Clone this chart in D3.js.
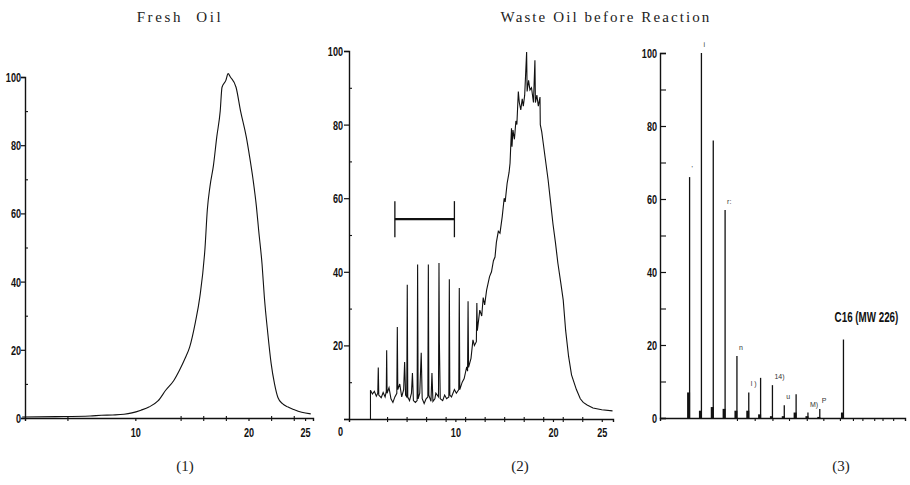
<!DOCTYPE html>
<html><head><meta charset="utf-8">
<script src="https://cdn.jsdelivr.net/npm/d3@7"></script>
<style>
body{margin:0;background:#fff;}
svg{display:block;}
.title{font-family:"Liberation Serif","DejaVu Serif",serif;font-size:15px;fill:#222;}
.cap{font-family:"Liberation Serif","DejaVu Serif",serif;font-size:15px;fill:#222;}
.tick text{font-family:"Liberation Sans","Arial",sans-serif;font-size:13px;font-weight:bold;fill:#111;}
.plab{font-family:"Liberation Sans","Arial",sans-serif;font-size:7px;fill:#333;}
.c16{font-family:"Liberation Sans","Arial",sans-serif;font-size:14px;font-weight:bold;fill:#111;}
</style></head><body>
<svg id="chart" width="910" height="485"></svg>
<script>
// ---------- DATA ----------
const titles = ["Fresh Oil", "Waste Oil before Reaction"];
const captions = ["(1)", "(2)", "(3)"];
const yMajorTicks = [0, 20, 40, 60, 80, 100];
const yMinorTicks = [10, 30, 50, 70, 90];
const xTickLabels = [10, 20, 25];

// Panel 1 : Fresh Oil
const freshTime  = [0, 3, 6, 7, 8, 9, 9.7, 10.5, 11.2, 12, 12.7, 13.4, 13.9, 14.4, 14.8, 15.3, 15.7, 16.16, 16.36, 16.6, 16.9, 17.2, 17.5, 17.66, 18.0, 18.2, 18.4, 18.9, 19.3, 19.8, 20.1, 20.4, 20.7, 20.9, 21.2, 21.4, 21.7, 22.0, 22.3, 22.6, 23.0, 23.5, 24.0, 24.7, 25.5];
const freshAbund = [0.3, 0.4, 0.6, 0.8, 0.9, 1.1, 1.5, 2.3, 3.2, 5.0, 8.2, 11, 14, 17.5, 20.8, 28, 35.5, 50, 61, 68, 74, 82.5, 90, 97, 99, 101, 100, 97, 90, 82.5, 76.6, 70, 62, 55, 45, 35.5, 25, 16, 10, 6, 4.2, 3.2, 2.5, 1.7, 1.2];
const freshMinorX = [4, 14, 16, 18, 22, 24];

// Panel 2 : Waste Oil before Reaction
const wasteTime = [1.3, 1.3, 1.5, 1.7, 1.9, 2.05, 2.1, 2.15, 2.4, 2.6, 2.8, 2.92, 2.96, 3.0, 3.2, 3.4, 3.6, 3.8, 4.0, 4.05, 4.1, 4.3, 4.5, 4.7, 4.8, 4.9, 5.02, 5.07, 5.12, 5.3, 5.5, 5.6, 5.7, 5.9, 6.08, 6.13, 6.18, 6.35, 6.5, 6.6, 6.8, 7.0, 7.18, 7.23, 7.28, 7.5, 7.6, 7.7, 7.9, 8.0, 8.27, 8.32, 8.36, 8.45, 8.7, 8.9, 9.1, 9.33, 9.38, 9.43, 9.6, 9.9, 10.1, 10.35, 10.4, 10.45, 10.7, 10.9, 11.16, 11.25, 11.3, 11.35, 11.6, 11.8, 11.95, 12.15, 12.2, 12.25, 12.5, 12.7, 12.85, 13.0, 13.2, 13.5, 13.7, 13.9, 14.06, 14.2, 14.4, 14.57, 14.8, 15.0, 15.1, 15.3, 15.5, 15.6, 15.75, 15.8, 15.9, 16.05, 16.2, 16.3, 16.45, 16.55, 16.7, 16.85, 16.96, 17.1, 17.3, 17.35, 17.5, 17.64, 17.8, 18.0, 18.15, 18.2, 18.35, 18.5, 18.67, 18.7, 18.85, 19.0, 19.2, 19.5, 19.75, 20.0, 20.25, 20.5, 20.8, 21.05, 21.3, 21.6, 21.9, 22.4, 22.8, 23.1, 23.5, 24.1, 25.0, 26.1];
const wasteAbund = [0, 7.8, 6.8, 7.5, 6.2, 7, 14, 6.5, 5.8, 7.2, 6, 7.5, 18.7, 7, 8.5, 5.5, 4.5, 6, 7, 25, 8, 9.5, 6, 8, 15.5, 6.5, 6, 36.5, 6, 5, 7, 12.5, 5, 4.5, 5, 42, 5.5, 7, 18, 5.5, 4.2, 5.5, 6, 42, 6.5, 4.8, 12.5, 4.8, 5.5, 7, 6, 42.4, 21, 5.5, 5, 6.5, 5.5, 6, 38, 6.5, 6, 8, 7, 8, 35.6, 8, 10, 11, 14.2, 13, 32, 14, 16.5, 21.5, 20, 21, 31.5, 24, 29.6, 28, 33, 31, 35, 38.7, 40, 43, 44, 48, 51, 50.5, 55, 60, 59, 64, 67, 69.5, 79, 74, 78.5, 76, 81, 80, 89, 86, 84, 87, 85, 88, 99.7, 89, 92, 89.4, 90, 86, 97.5, 86, 88, 85, 87.5, 80, 78, 75, 71, 65, 59, 53, 48, 42.4, 37, 32.3, 24, 17, 12, 8, 5.5, 4.5, 3.8, 3.0, 2.5, 2.2];
const wasteMinorX = [3, 5, 7, 9, 11, 13, 15, 17, 19, 21, 23];
const wasteBarRange = [3.8, 9.9];
const wasteBarLevel = 54.3;
const wasteBarCap = [49.4, 59.2];

// Panel 3 : product
const productCarbon = [3, 4, 5, 6, 7, 8, 9, 10, 11, 12, 13, 14, 16];
const productAbund  = [66, 100, 76, 57, 17, 7, 11, 9, 3.5, 6.5, 1.5, 2.5, 21.5];
const productBase   = [7, 2, 3, 2.5, 2, 2, 1, 0.5, 0.5, 1.5, 0.5, 0.3, 1.5];
const productLabels = ["'", "i", "", "r:", "n", "l )", "", "14)", "u", "", "M)", "P", ""];
const productMinorX = [7, 8.5, 10, 11.4, 12.9, 14.3, 15.7, 16.8, 17.6, 18.6, 19.3, 20.2];
const c16Label = "C16 (MW 226)";

// ---------- DRAW ----------
const svg = d3.select("#chart");
const ink = "#111";
const narrow = 0.7;

function squeeze(sel) {
  sel.each(function () {
    const t = d3.select(this);
    const bx = +t.attr("x") || 0;
    t.attr("x", bx / narrow).attr("transform", `scale(${narrow},1)`);
  });
}
function yAxisGroup(g, y, x0, opts) {
  const ax = g.append("g").attr("transform", `translate(${x0},0)`);
  ax.call(d3.axisLeft(y).tickValues(yMajorTicks).tickSize(opts.majorSize).tickPadding(opts.pad).tickFormat(d3.format("d")));
  ax.select(".domain").attr("stroke", ink).attr("stroke-width", 1.4);
  ax.selectAll(".tick line").attr("stroke", ink).attr("stroke-width", 1.2);
  ax.selectAll(".tick text").attr("dy", "0.35em").call(squeeze);
  const mn = g.append("g").attr("transform", `translate(${x0},0)`);
  mn.call(d3.axisRight(y).tickValues(yMinorTicks).tickSize(opts.minorSize).tickFormat(""));
  mn.select(".domain").remove();
  mn.selectAll(".tick line").attr("stroke", ink).attr("stroke-width", 1.1);
  return ax;
}
function xAxisGroup(g, x, y0, labels, minor, pad) {
  const ax = g.append("g").attr("transform", `translate(0,${y0})`);
  ax.call(d3.axisBottom(x).tickValues(labels).tickSize(3).tickPadding(pad).tickFormat(d3.format("d")));
  ax.select(".domain").attr("stroke", ink).attr("stroke-width", 1.4);
  ax.selectAll(".tick line").attr("stroke", ink).attr("stroke-width", 1.2);
  ax.selectAll(".tick text").call(squeeze);
  const mn = g.append("g").attr("transform", `translate(0,${y0})`);
  mn.call(d3.axisBottom(x).tickValues(minor).tickSize(3).tickFormat(""));
  mn.select(".domain").remove();
  mn.selectAll(".tick line").attr("stroke", ink).attr("stroke-width", 1.1).attr("y1", -2);
  return ax;
}

// Panel 1
{
  const g = svg.append("g");
  const x = d3.scaleLinear().domain([0.25, 25.7]).range([25, 313]);
  const y = d3.scaleLinear().domain([0, 100]).range([418, 77]);
  xAxisGroup(g, x, y(0), xTickLabels, freshMinorX, 7);
  yAxisGroup(g, y, 25, {majorSize: 4, pad: 0, minorSize: 3});
  g.append("path").datum(d3.zip(freshTime, freshAbund))
    .attr("d", d3.line().curve(d3.curveMonotoneX).x(d => x(d[0])).y(d => y(d[1])))
    .attr("fill", "none").attr("stroke", ink).attr("stroke-width", 1.1);
  svg.append("text").attr("class", "title").attr("x", 180).attr("y", 22).attr("text-anchor", "middle")
    .attr("letter-spacing", "2.6px").attr("word-spacing", "7px").text(titles[0]);
  svg.append("text").attr("class", "cap").attr("x", 185).attr("y", 471).attr("text-anchor", "middle").text(captions[0]);
}

// Panel 2
{
  const g = svg.append("g");
  const x = d3.scaleLinear().domain([-0.9, 26.15]).range([349, 613]);
  const y = d3.scaleLinear().domain([0, 100]).range([419, 51]);
  xAxisGroup(g, x, y(0), xTickLabels, wasteMinorX, 6);
  const ya = yAxisGroup(g, y, 349, {majorSize: 5, pad: 1, minorSize: 3});
  // the zero label of this panel sits below the baseline, left of the axis
  ya.selectAll(".tick").filter(d => d === 0).select("text").attr("dy", "1.25em");
  g.append("path").datum(d3.zip(wasteTime, wasteAbund))
    .attr("d", d3.line().x(d => x(d[0])).y(d => y(d[1])))
    .attr("fill", "none").attr("stroke", ink).attr("stroke-width", 1.1).attr("stroke-linejoin", "miter");
  g.append("line").attr("x1", x(wasteBarRange[0])).attr("x2", x(wasteBarRange[1]))
    .attr("y1", y(wasteBarLevel)).attr("y2", y(wasteBarLevel)).attr("stroke", ink).attr("stroke-width", 2.2);
  g.selectAll("line.capbar").data(wasteBarRange).join("line").attr("class", "capbar")
    .attr("x1", d => x(d)).attr("x2", d => x(d))
    .attr("y1", y(wasteBarCap[0])).attr("y2", y(wasteBarCap[1])).attr("stroke", ink).attr("stroke-width", 1.3);
  svg.append("text").attr("class", "title").attr("x", 606).attr("y", 22).attr("text-anchor", "middle")
    .attr("letter-spacing", "2.1px").text(titles[1]);
  svg.append("text").attr("class", "cap").attr("x", 520).attr("y", 471).attr("text-anchor", "middle").text(captions[1]);
}

// Panel 3
{
  const g = svg.append("g");
  const x = d3.scaleLinear().domain([0.5, 21.2]).range([660, 905]);
  const y = d3.scaleLinear().domain([0, 100]).range([418, 53]);
  const ax = g.append("g").attr("transform", `translate(0,${y(0)})`);
  ax.call(d3.axisBottom(x).tickValues(productMinorX).tickSize(3).tickFormat(""));
  ax.select(".domain").attr("stroke", ink).attr("stroke-width", 1.4);
  ax.selectAll(".tick line").attr("stroke", ink).attr("stroke-width", 1.1);
  yAxisGroup(g, y, 660, {majorSize: -6, pad: 3, minorSize: 6});
  g.selectAll("line.spike").data(d3.zip(productCarbon, productAbund)).join("line").attr("class", "spike")
    .attr("x1", d => x(d[0])).attr("x2", d => x(d[0]))
    .attr("y1", y(0)).attr("y2", d => y(d[1]))
    .attr("stroke", ink).attr("stroke-width", 1.3);
  g.selectAll("line.base").data(d3.zip(productCarbon, productBase)).join("line").attr("class", "base")
    .attr("x1", d => x(d[0]) - 1).attr("x2", d => x(d[0]) - 1)
    .attr("y1", y(0)).attr("y2", d => y(d[1]))
    .attr("stroke", ink).attr("stroke-width", 3);
  g.selectAll("text.plab").data(d3.zip(productCarbon, productAbund, productLabels)).join("text").attr("class", "plab")
    .attr("x", d => x(d[0]) + 2).attr("y", d => y(d[1]) - 6).text(d => d[2]);
  const last = productCarbon.length - 1;
  g.append("text").attr("class", "c16")
    .attr("x", (x(productCarbon[last]) + 23) / narrow).attr("y", y(productAbund[last]) - 18)
    .attr("transform", `scale(${narrow},1)`)
    .attr("text-anchor", "middle").text(c16Label);
  svg.append("text").attr("class", "cap").attr("x", 841).attr("y", 471).attr("text-anchor", "middle").text(captions[2]);
}
</script>
</body></html>
